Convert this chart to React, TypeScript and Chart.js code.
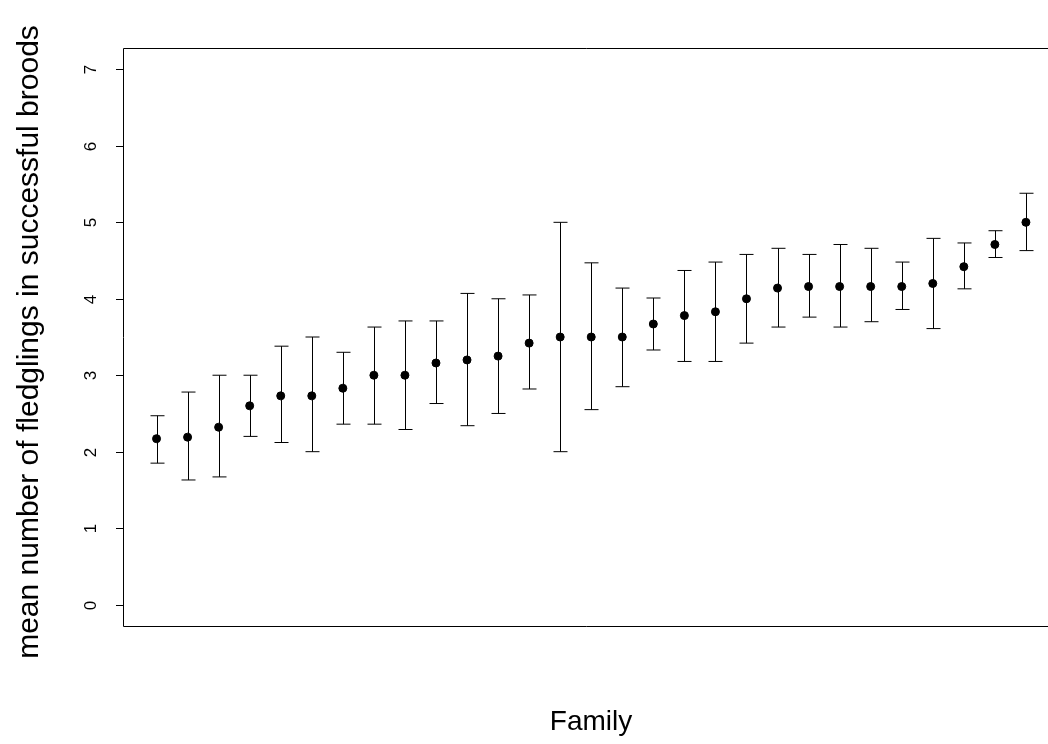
import { useEffect, useRef } from "react";
import Chart from "chart.js/auto";

const families = Array.from({ length: 29 }, (_, i) => i + 1);
const means = [2.17, 2.19, 2.32, 2.6, 2.73, 2.73, 2.83, 3.0, 3.0, 3.16, 3.2, 3.25, 3.42, 3.5, 3.5, 3.5, 3.67, 3.78, 3.83, 4.0, 4.14, 4.16, 4.16, 4.16, 4.16, 4.2, 4.42, 4.71, 5.0];
const lower = [1.85, 1.63, 1.67, 2.2, 2.12, 2.0, 2.36, 2.36, 2.29, 2.63, 2.34, 2.5, 2.82, 2.0, 2.55, 2.85, 3.33, 3.18, 3.18, 3.42, 3.63, 3.76, 3.63, 3.7, 3.86, 3.61, 4.13, 4.54, 4.63];
const upper = [2.47, 2.78, 3.0, 3.0, 3.38, 3.5, 3.3, 3.63, 3.71, 3.71, 4.07, 4.0, 4.05, 5.0, 4.47, 4.14, 4.01, 4.37, 4.48, 4.58, 4.66, 4.58, 4.71, 4.66, 4.48, 4.79, 4.73, 4.89, 5.38];
const yTicks = [0, 1, 2, 3, 4, 5, 6, 7];

const FONT = "Liberation Sans, Arial, sans-serif";

const rPlot = {
  id: "rPlot",
  afterDatasetsDraw(chart: any) {
    const { ctx, chartArea: a, scales } = chart;
    const x = scales.x, y = scales.y;
    ctx.save();
    ctx.strokeStyle = "#000";
    ctx.lineWidth = 1;
    // error bars
    families.forEach((f, i) => {
      const px = Math.round(x.getPixelForValue(f)) + 0.5;
      const lo = y.getPixelForValue(lower[i]);
      const hi = y.getPixelForValue(upper[i]);
      ctx.beginPath();
      ctx.moveTo(px, lo);
      ctx.lineTo(px, hi);
      ctx.moveTo(px - 7, lo);
      ctx.lineTo(px + 7, lo);
      ctx.moveTo(px - 7, hi);
      ctx.lineTo(px + 7, hi);
      ctx.stroke();
    });
    // box (right side cut off)
    ctx.beginPath();
    ctx.moveTo(a.right + 20, a.top + 0.5);
    ctx.lineTo(a.left + 0.5, a.top + 0.5);
    ctx.lineTo(a.left + 0.5, a.bottom + 0.5);
    ctx.lineTo(a.right + 20, a.bottom + 0.5);
    ctx.stroke();
    // y ticks
    ctx.font = `17px ${FONT}`;
    ctx.fillStyle = "#000";
    ctx.textAlign = "center";
    ctx.textBaseline = "middle";
    yTicks.forEach((t) => {
      const py = Math.round(y.getPixelForValue(t)) + 0.5;
      ctx.beginPath();
      ctx.moveTo(a.left, py);
      ctx.lineTo(a.left - 7, py);
      ctx.stroke();
      ctx.save();
      ctx.translate(a.left - 32, py);
      ctx.rotate(-Math.PI / 2);
      ctx.fillText(String(t), 0, 0);
      ctx.restore();
    });
    // titles
    ctx.font = `28px ${FONT}`;
    ctx.fillText("Family", 591, 722);
    ctx.font = `30px ${FONT}`;
    ctx.save();
    ctx.translate(30, 342);
    ctx.rotate(-Math.PI / 2);
    ctx.fillText("mean number of fledglings in successful broods", 0, 0);
    ctx.restore();
    ctx.restore();
  },
};

export default function App() {
  const canvasRef = useRef<HTMLCanvasElement>(null);

  useEffect(() => {
    document.body.style.margin = "0";
    const canvas = canvasRef.current;
    if (!canvas) return;
    const chart = new Chart(canvas.getContext("2d")!, {
      type: "scatter",
      data: {
        datasets: [
          {
            data: families.map((f, i) => ({ x: f, y: means[i] })),
            backgroundColor: "#000",
            borderColor: "#000",
            pointRadius: 4,
          },
        ],
      },
      options: {
        animation: false,
        responsive: false,
        layout: { padding: { left: 123, top: 48, right: 0, bottom: 118 } },
        plugins: { legend: { display: false }, tooltip: { enabled: false } },
        scales: {
          x: { type: "linear", display: false, min: -0.08, max: 29.55 },
          y: { type: "linear", display: false, min: -0.28, max: 7.28 },
        },
      },
      plugins: [rPlot],
    });
    return () => chart.destroy();
  }, []);

  return <canvas ref={canvasRef} width={1048} height={744} style={{ display: "block", background: "#fff" }} />;
}
